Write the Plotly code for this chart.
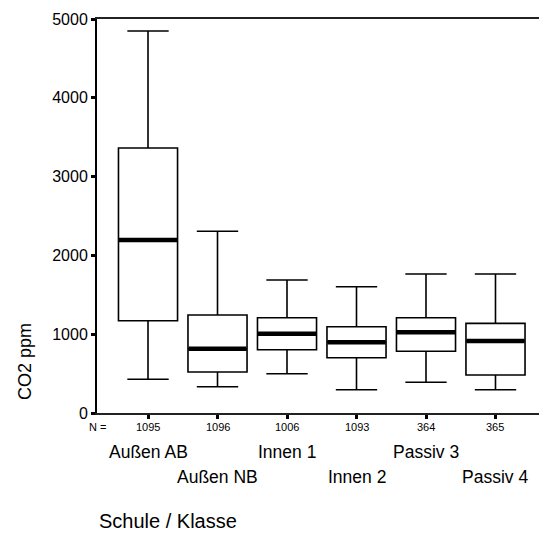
import plotly.graph_objects as go

categories = ["Außen AB", "Außen NB", "Innen 1", "Innen 2", "Passiv 3", "Passiv 4"]
n_values = ["1095", "1096", "1006", "1093", "364", "365"]
lower_whisker = [428, 334, 499, 296, 390, 296]
q1 = [1171, 520, 803, 702, 783, 482]
median = [2195, 816, 1006, 897, 1024, 914]
q3 = [3363, 1244, 1209, 1095, 1209, 1138]
upper_whisker = [4848, 2306, 1688, 1603, 1764, 1764]
y_ticks = [0, 1000, 2000, 3000, 4000, 5000]

FONT = "Liberation Sans, Arial, sans-serif"

fig = go.Figure()
fig.add_trace(go.Box(
    x=categories, q1=q1, median=median, q3=q3,
    lowerfence=lower_whisker, upperfence=upper_whisker,
    width=0.85, whiskerwidth=0.7,
    fillcolor="white", line=dict(color="black", width=1.6),
    boxpoints=False, showlegend=False, hoverinfo="skip",
))
fig.add_trace(go.Scatter(
    x=categories, y=median, mode="markers",
    marker=dict(symbol="line-ew", size=41.5, color="black",
                line=dict(color="black", width=4.5)),
    showlegend=False, hoverinfo="skip",
))

annotations = []
for i, (c, n) in enumerate(zip(categories, n_values)):
    annotations.append(dict(x=c, y=0, xref="x", yref="paper", text=n,
                            showarrow=False, yanchor="middle", yshift=-14,
                            font=dict(family=FONT, size=11, color="black")))
    annotations.append(dict(x=c, y=0, xref="x", yref="paper", text=c,
                            showarrow=False, yanchor="middle",
                            yshift=-39 if i % 2 == 0 else -64,
                            font=dict(family=FONT, size=17.5, color="black")))
annotations.append(dict(x=0, y=0, xref="paper", yref="paper", text="N =",
                        showarrow=False, xanchor="center", yanchor="middle",
                        yshift=-14, font=dict(family=FONT, size=11, color="black")))
annotations.append(dict(x=0, y=0, xref="paper", yref="paper", text="Schule / Klasse",
                        showarrow=False, xanchor="left", yanchor="middle",
                        yshift=-108, font=dict(family=FONT, size=20, color="black")))
annotations.append(dict(x=0, y=(413 - 362) / 394, xref="paper", yref="paper",
                        text="CO2 ppm", textangle=-90, showarrow=False,
                        xanchor="center", yanchor="middle", xshift=-72,
                        font=dict(family=FONT, size=18, color="black")))

fig.update_layout(
    width=539, height=535,
    margin=dict(l=97, r=0, t=19, b=122),
    paper_bgcolor="white", plot_bgcolor="white",
    annotations=annotations,
    xaxis=dict(type="category", range=[-0.734, 5.626], showticklabels=False,
               ticks="outside", ticklen=4, tickwidth=3, tickcolor="black",
               showline=True, linewidth=2, linecolor="#222", mirror=True,
               showgrid=False, zeroline=False, fixedrange=True),
    yaxis=dict(range=[0, 5000], tickvals=y_ticks,
               ticktext=[str(v) for v in y_ticks],
               ticks="outside", ticklen=4, tickwidth=3, tickcolor="black",
               showline=True, linewidth=2, linecolor="black",
               showgrid=False, zeroline=False,
               tickfont=dict(family=FONT, size=16, color="black")),
)

fig.write_html("out.html")
